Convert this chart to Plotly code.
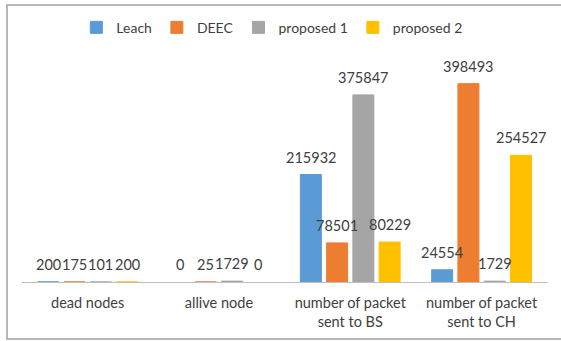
import plotly.graph_objects as go

categories = ["dead nodes", "allive node", "number of packet<br>sent to BS", "number of packet<br>sent to CH"]
series_names = ["Leach", "DEEC", "proposed 1", "proposed 2"]
leach = [200, 0, 215932, 24554]
deec = [175, 25, 78501, 398493]
proposed1 = [101, 1729, 375847, 1729]
proposed2 = [200, 0, 80229, 254527]
values = [leach, deec, proposed1, proposed2]
colors = ["#5B9BD5", "#ED7D31", "#A5A5A5", "#FFC000"]

FONT = "Lato"
TXT = "#404040"

fig = go.Figure()
for name, vals, col in zip(series_names, values, colors):
    fig.add_trace(go.Bar(
        name=name, x=categories, y=vals,
        marker=dict(color=col, line=dict(color=col, width=[1 if v > 0 else 0 for v in vals])),
    ))

# data labels
step = 26.3
annotations = []
for i, vals in enumerate(values):
    for cat, v in zip(categories, vals):
        annotations.append(dict(
            x=cat, y=v, xref="x", yref="y", text=str(v), showarrow=False,
            xanchor="center", yanchor="bottom", xshift=(i - 1.5) * step, yshift=7,
            font=dict(family=FONT, size=14.5, color=TXT),
        ))

fig.update_layout(
    width=561, height=341,
    margin=dict(l=22, r=13, t=58, b=59, autoexpand=False),
    paper_bgcolor="white", plot_bgcolor="white",
    barmode="group", bargap=0.2, bargroupgap=0.2,
    font=dict(family=FONT, size=14.5, color=TXT),
    showlegend=True,
    legend=dict(orientation="h", x=0.475, xanchor="center", y=1.135, yanchor="middle",
                bgcolor="rgba(0,0,0,0)",
                font=dict(family=FONT, size=14, color=TXT), itemwidth=30),
    xaxis=dict(showline=True, linecolor="#bfbfbf", linewidth=1, ticks="",
               ticklabelstandoff=8, automargin=False,
               tickfont=dict(family=FONT, size=14.5, color=TXT), showgrid=False),
    yaxis=dict(range=[0, 450000], visible=False, showgrid=False, automargin=False),
    annotations=annotations,
    shapes=[dict(type="rect", xref="paper", yref="paper",
                 x0=(7 - 22) / 526, x1=(563 - 22) / 526,
                 y0=-57 / 224, y1=277 / 224,
                 line=dict(color="#a0a0a0", width=1.5), fillcolor="rgba(0,0,0,0)")],
)

fig.write_html("out.html")
